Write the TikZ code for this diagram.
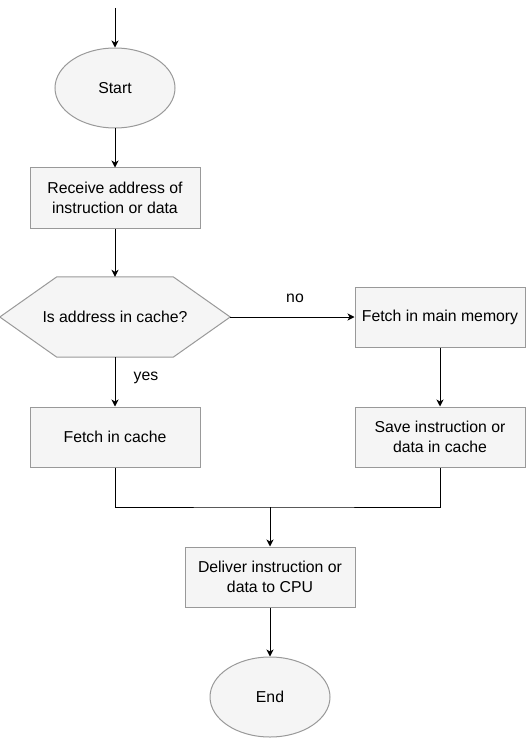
\documentclass[tikz,border=0pt]{standalone}
\usepackage{fontspec}
\setmainfont{Liberation Sans}
\definecolor{boxfill}{HTML}{F5F5F5}
\definecolor{boxline}{HTML}{999999}
\usetikzlibrary{shapes.geometric, arrows.meta, positioning, calc, backgrounds}
\tikzset{
    flowtext/.style={font=\fontsize{15.8}{19.8}\selectfont, align=center},
    termbox/.style={ellipse, draw=boxline, fill=boxfill, line width=1pt,
                    minimum width=120pt, minimum height=80pt, flowtext},
    procbox/.style={rectangle, draw=boxline, fill=boxfill, line width=1pt,
                    minimum width=170pt, minimum height=60pt, inner sep=2pt, flowtext},
    testbox/.style={rectangle, minimum width=230pt, minimum height=80pt, inner sep=0pt, flowtext},
    testshape/.style={draw=boxline, fill=boxfill, line width=1pt},
    arrow/.style={-{Stealth[length=7pt, width=7pt, inset=2pt]}, line width=1pt},
    joinline/.style={line width=1pt},
}
\begin{document}
\begin{tikzpicture}[x=10pt, y=-10pt]
    \useasboundingbox (0,0) rectangle (52.6,73.8);

    \coordinate (entry) at (11.5,0.8);
    \node[termbox] (start) at (11.5,8.8) {Start};
    \node[procbox] (receive) at (11.5,19.8) {Receive address of\\instruction or data};
    \node[testbox] (incache) at (11.5,31.7) {Is address in cache?};
    \node[procbox] (fetchmain) at (44,31.7) {Fetch in main memory};
    \node[procbox] (fetchcache) at (11.5,43.7) {Fetch in cache};
    \node[procbox] (savecache) at (44,43.7) {Save instruction or\\data in cache};
    \coordinate (join) at (27,50.7);
    \node[procbox] (deliver) at (27,57.7) {Deliver instruction or\\data to CPU};
    \node[termbox] (finish) at (27,69.7) {End};

    % hexagon behind the decision text
    \begin{scope}[on background layer]
        \draw[testshape] (incache.west) -- ($(incache.north west)+(5.7,0)$)
            -- ($(incache.north east)+(-5.7,0)$) -- (incache.east)
            -- ($(incache.south east)+(-5.7,0)$) -- ($(incache.south west)+(5.7,0)$) -- cycle;
    \end{scope}

    \node[flowtext] (nolabel) at (29.5,29.8) {no};
    \node[flowtext] (yeslabel) at (14.6,37.8) {yes};

    \draw[arrow] (entry) -- (start);
    \draw[arrow] (start) -- (receive);
    \draw[arrow] (receive) -- (incache);
    \draw[arrow] (incache) -- (fetchmain);
    \draw[arrow] (incache) -- (fetchcache);
    \draw[arrow] (fetchmain) -- (savecache);
    \draw[joinline] (fetchcache.south) |- (join) -| (savecache.south);
    \draw[arrow] (join) -- (deliver);
    \draw[arrow] (deliver) -- (finish);
\end{tikzpicture}
\end{document}
